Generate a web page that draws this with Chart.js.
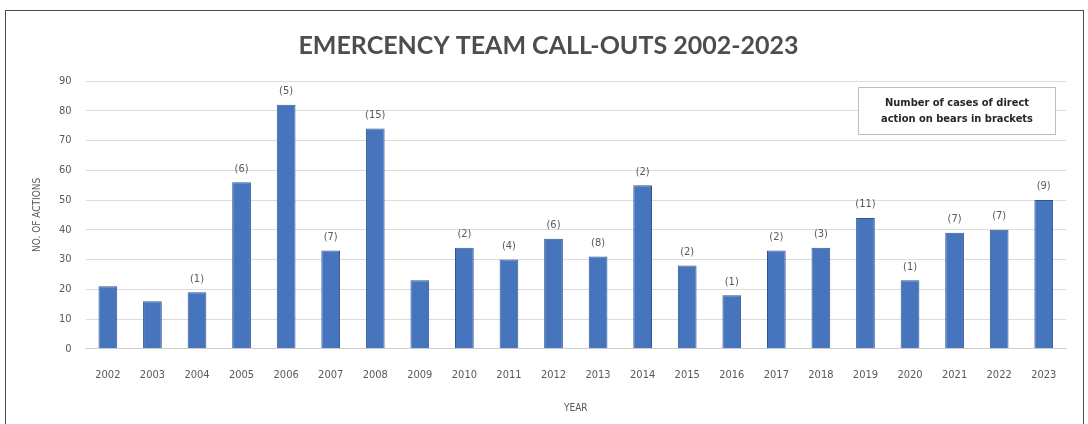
<!DOCTYPE html>
<html>
<head>
<meta charset="utf-8">
<script src="https://cdn.jsdelivr.net/npm/chart.js@4/dist/chart.umd.min.js"></script>
<style>
  html, body { margin: 0; padding: 0; background: #fff; }
  #wrap { position: absolute; left: 0; top: 0; width: 1088px; height: 424px; }
</style>
</head>
<body>
<div id="wrap"><canvas id="callouts" width="1088" height="424"></canvas></div>
<script>
const years = ["2002", "2003", "2004", "2005", "2006", "2007", "2008", "2009", "2010", "2011", "2012",
               "2013", "2014", "2015", "2016", "2017", "2018", "2019", "2020", "2021", "2022", "2023"];
const actions = [21, 16, 19, 56, 82, 33, 74, 23, 34, 30, 37, 31, 55, 28, 18, 33, 34, 44, 23, 39, 40, 50];
// bear cases shown in brackets above the bars (null = no label)
const bearCases = [null, null, 1, 6, 5, 7, 15, null, 2, 4, 6, 8, 2, 2, 1, 2, 3, 11, 1, 7, 7, 9];
const noteLines = ["Number of cases of direct", "action on bears in brackets"];

const axisFont = "'Liberation Sans Narrow', 'DejaVu Sans Condensed', 'Noto Sans', sans-serif";

// outer frame around the whole figure
const framePlugin = {
    id: "frame",
    beforeDraw(chart) {
        const c = chart.ctx;
        c.save();
        c.fillStyle = "#fff";
        c.fillRect(0, 0, chart.width, chart.height);
        c.strokeStyle = "#4a4a4a";
        c.lineWidth = 1;
        c.strokeRect(5.5, 10.5, 1078, 420);
        c.restore();
    }
};

// bracketed counts above bars plus the note box
const labelPlugin = {
    id: "bracketLabels",
    afterDatasetsDraw(chart) {
        const c = chart.ctx;
        const meta = chart.getDatasetMeta(0);
        c.save();
        c.font = "11px " + axisFont;
        c.fillStyle = "#595959";
        c.textAlign = "center";
        c.textBaseline = "bottom";
        meta.data.forEach((bar, i) => {
            if (bearCases[i] === null) return;
            c.fillText("(" + bearCases[i] + ")", bar.x, bar.y - 8);
        });

        const bx = 858.5, by = 87.5, bw = 197, bh = 47;
        c.fillStyle = "#fff";
        c.fillRect(bx, by, bw, bh);
        c.strokeStyle = "#bfbfbf";
        c.strokeRect(bx, by, bw, bh);
        c.fillStyle = "#262626";
        c.font = "bold 11px " + axisFont;
        c.textBaseline = "middle";
        c.fillText(noteLines[0], bx + bw / 2, by + 16);
        c.fillText(noteLines[1], bx + bw / 2, by + 32);
        c.restore();
    }
};

new Chart(document.getElementById("callouts"), {
    type: "bar",
    data: {
        labels: years,
        datasets: [{
            data: actions,
            backgroundColor: "#4674bd",
            borderColor: "#2f5597",
            borderWidth: 1,
            categoryPercentage: 1,
            barPercentage: 0.42
        }]
    },
    options: {
        responsive: false,
        animation: false,
        layout: { padding: { left: 31, right: 22, top: 31, bottom: 6 } },
        plugins: {
            legend: { display: false },
            tooltip: { enabled: false },
            title: {
                display: true,
                text: "EMERCENCY TEAM CALL-OUTS 2002-2023",
                color: "#4d4d4d",
                font: { family: "Lato, sans-serif", size: 25, weight: "bold" },
                padding: { top: 0, bottom: 20 }
            }
        },
        scales: {
            x: {
                grid: { display: false },
                border: { color: "#d0d0d0" },
                ticks: { color: "#595959", font: { family: axisFont, size: 11 }, padding: 12, maxRotation: 0 },
                title: {
                    display: true, text: "YEAR", color: "#595959",
                    font: { family: axisFont, size: 10 }, padding: { top: 8 }
                }
            },
            y: {
                min: 0,
                max: 90,
                ticks: { stepSize: 10, color: "#595959", font: { family: axisFont, size: 11 }, padding: 14 },
                grid: { color: "#dcdcdc", drawTicks: false },
                border: { display: false },
                title: {
                    display: true, text: "NO. OF ACTIONS", color: "#595959",
                    font: { family: axisFont, size: 10 }, padding: { top: 0, bottom: 2 }
                }
            }
        }
    },
    plugins: [framePlugin, labelPlugin]
});
</script>
</body>
</html>
